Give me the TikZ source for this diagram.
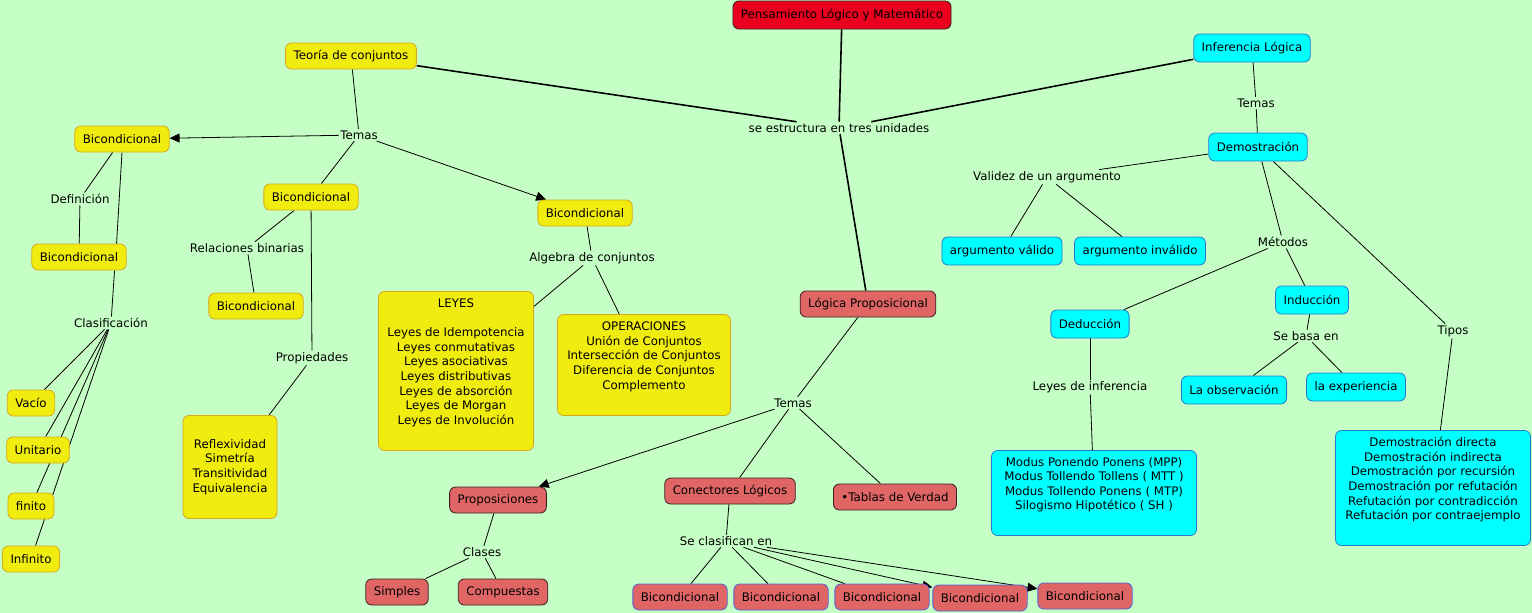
\documentclass[tikz,border=0pt]{standalone}
\usepackage{fontspec}
\setmainfont{DejaVu Sans}
\usepackage{tikz}
\usetikzlibrary{arrows.meta,shapes}

\definecolor{paper}{RGB}{198,255,198}
\definecolor{yelfill}{RGB}{240,236,16}
\definecolor{yeldraw}{RGB}{214,168,30}
\definecolor{pinkfill}{RGB}{224,102,102}
\definecolor{pinkdraw}{RGB}{60,30,30}
\definecolor{rootfill}{RGB}{234,0,30}
\definecolor{cyanfill}{RGB}{0,255,255}
\definecolor{cyandraw}{RGB}{40,120,210}
\definecolor{bluedraw}{RGB}{80,95,215}

\pgfdeclarelayer{paperlayer}
\pgfdeclarelayer{links}
\pgfsetlayers{paperlayer,links,main}

\begin{document}
\begin{tikzpicture}[x=1pt,y=-1pt,>={Triangle[length=10pt,width=9pt]},node distance=101pt,
		font=\fontsize{11.8}{14.6}\selectfont,
		box/.style={rectangle,rounded corners=6pt,line width=0.8pt,inner xsep=8pt,minimum height=26pt,align=center},
		tbox/.style={box,fill=yelfill,draw=yeldraw},
		lbox/.style={box,fill=pinkfill,draw=pinkdraw},
		gbox/.style={box,fill=pinkfill,draw=bluedraw},
		rbox/.style={box,fill=rootfill,draw=pinkdraw,minimum height=28pt},
		ibox/.style={box,fill=cyanfill,draw=cyandraw,minimum height=28pt},
		phrase/.style={inner sep=1.5pt},
		trunk/.style={line width=1.6pt},
		every edge/.style={draw,line width=0.8pt}]

		\begin{pgfonlayer}{paperlayer}
		\fill[paper] (0,0) rectangle (1532,613);
		\end{pgfonlayer}
		\useasboundingbox (0,0) rectangle (1532,613);

		\node[rbox] (R) at (842,15) {Pensamiento Lógico y Matemático};
		\node[phrase] (U) at (839,128) {se estructura en tres unidades};
		\node[tbox] (T) at (351,56) {Teoría de conjuntos};
		\node[ibox] (I) at (1252,48) {Inferencia Lógica};
		\node[lbox] (L) at (868,304) {Lógica Proposicional};

		\node[phrase] (T1) at (359,135) {Temas};
		\node[tbox] (A) at (122,139) {Bicondicional};
		\node[tbox] (B) at (311,197) {Bicondicional};
		\node[tbox] (C) at (585,213) {Bicondicional};
		\node[phrase] (Df) at (80,199) {Definición};
		\node[tbox] (D) at (79,257) {Bicondicional};
		\node[phrase] (Cl) at (111,323) {Clasificación};
		\node[tbox] (V1) at (31,403) {Vacío};
		\node[tbox] (V2) at (38,450) {Unitario};
		\node[tbox] (V3) at (31,506) {finito};
		\node[tbox] (V4) at (31,559) {Infinito};
		\node[phrase] (Rb) at (247,248) {Relaciones binarias};
		\node[tbox] (E) at (256,306) {Bicondicional};
		\node[phrase] (Pr) at (312,358) {Propiedades};
		\node[tbox,minimum width=94pt,minimum height=103pt] (F) at (230,467)
			{Reflexividad\\Simetría\\Transitividad\\Equivalencia};
		\node[phrase] (Al) at (592,258) {Algebra de conjuntos};
		\node[tbox,minimum width=155pt,minimum height=159pt] (Ly) at (456,371)
			{LEYES\\ \strut\\Leyes de Idempotencia\\Leyes conmutativas\\Leyes asociativas\\Leyes distributivas\\Leyes de absorción\\Leyes de Morgan\\Leyes de Involución\\ \strut};
		\node[tbox,minimum width=173pt,minimum height=101pt] (Op) at (644,365)
			{OPERACIONES\\Unión de Conjuntos\\Intersección de Conjuntos\\Diferencia de Conjuntos\\Complemento\\ \strut};

		\node[phrase] (T2) at (793,403) {Temas};
		\node[lbox] (P) at (498,500) {Proposiciones};
		\node[lbox] (K) at (730,491) {Conectores Lógicos};
		\node[lbox] (Tv) at (895,497) {•Tablas de Verdad};
		\node[phrase] (Ca) at (482,552) {Clases};
		\node[lbox] (S) at (397,592) {Simples};
		\node[lbox] (Cp) at (503,592) {Compuestas};
		\node[phrase] (Sc) at (726,541) {Se clasifican en};
		\node[gbox] (G1) at (680,597) {Bicondicional};
		\node[gbox] (G2) [right of=G1] {Bicondicional};
		\node[gbox] (G3) [right of=G2] {Bicondicional};
		\node[gbox] (G4) at (980,598) {Bicondicional};
		\node[gbox] (G5) at (1085,596) {Bicondicional};

		\node[phrase] (T3) at (1256,103) {Temas};
		\node[ibox] (Dm) at (1258,147) {Demostración};
		\node[phrase] (Va) at (1047,177) {Validez de un argumento};
		\node[ibox] (Av) at (1002,251) {argumento válido};
		\node[ibox] (Ai) at (1140,251) {argumento inválido};
		\node[phrase] (Me) at (1283,242) {Métodos};
		\node[ibox] (De) at (1090,324) {Deducción};
		\node[ibox] (In) at (1312,300) {Inducción};
		\node[phrase] (Sb) at (1306,336) {Se basa en};
		\node[ibox] (Ob) at (1234,390) {La observación};
		\node[ibox] (Ex) at (1356,387) {la experiencia};
		\node[phrase] (Li) at (1090,387) {Leyes de inferencia};
		\node[ibox,minimum width=205pt,minimum height=85pt] (Mo) at (1094,493)
			{Modus Ponendo Ponens (MPP)\\Modus Tollendo Tollens ( MTT )\\Modus Tollendo Ponens ( MTP)\\Silogismo Hipotético ( SH )\\ \strut};
		\node[phrase] (Ti) at (1453,331) {Tipos};
		\node[ibox,minimum width=195pt,minimum height=115pt] (Dd) at (1433,488)
			{Demostración directa\\Demostración indirecta\\Demostración por recursión\\Demostración por refutación\\Refutación por contradicción\\Refutación por contraejemplo\\ \strut};

		\begin{pgfonlayer}{links}
		\path[every edge/.append style={trunk}]
		(R) edge (U)
		(U) edge (T)
		edge (I)
		edge (L);

		\path
		(T) edge (T1)
		(T1) edge[->] (A)
		edge (B)
		edge[->] (C)
		(A) edge (Df)
		(A.south) edge ([xshift=-10pt]D.north east)
		(Df) edge (D)
		([xshift=-12pt]D.south east) edge (Cl)
		(Cl) edge (V1)
		edge (V2)
		edge (V3)
		edge (V4)
		(B) edge (Rb)
		edge (Pr)
		(Rb) edge (E)
		(Pr) edge (F)
		(C) edge (Al)
		(Al) edge (Ly)
		edge (Op);

		\path
		(L) edge (T2)
		(T2) edge[->] (P)
		edge (K)
		edge (Tv)
		(P) edge (Ca)
		(Ca) edge (S)
		edge (Cp)
		(K) edge (Sc)
		(Sc) edge (G1)
		edge (G2)
		edge (G3)
		edge[->] (G4)
		edge[->] (G5);

		\path
		(I) edge (T3)
		(T3) edge (Dm)
		(Dm) edge (Va)
		edge (Me)
		edge (Ti)
		(Va) edge (Av)
		edge (Ai)
		(Me) edge (De)
		edge (In)
		(In) edge (Sb)
		(Sb) edge (Ob)
		edge (Ex)
		(De) edge (Li)
		(Li) edge (Mo)
		(Ti) edge (Dd);
		\end{pgfonlayer}
	\end{tikzpicture}
\end{document}
